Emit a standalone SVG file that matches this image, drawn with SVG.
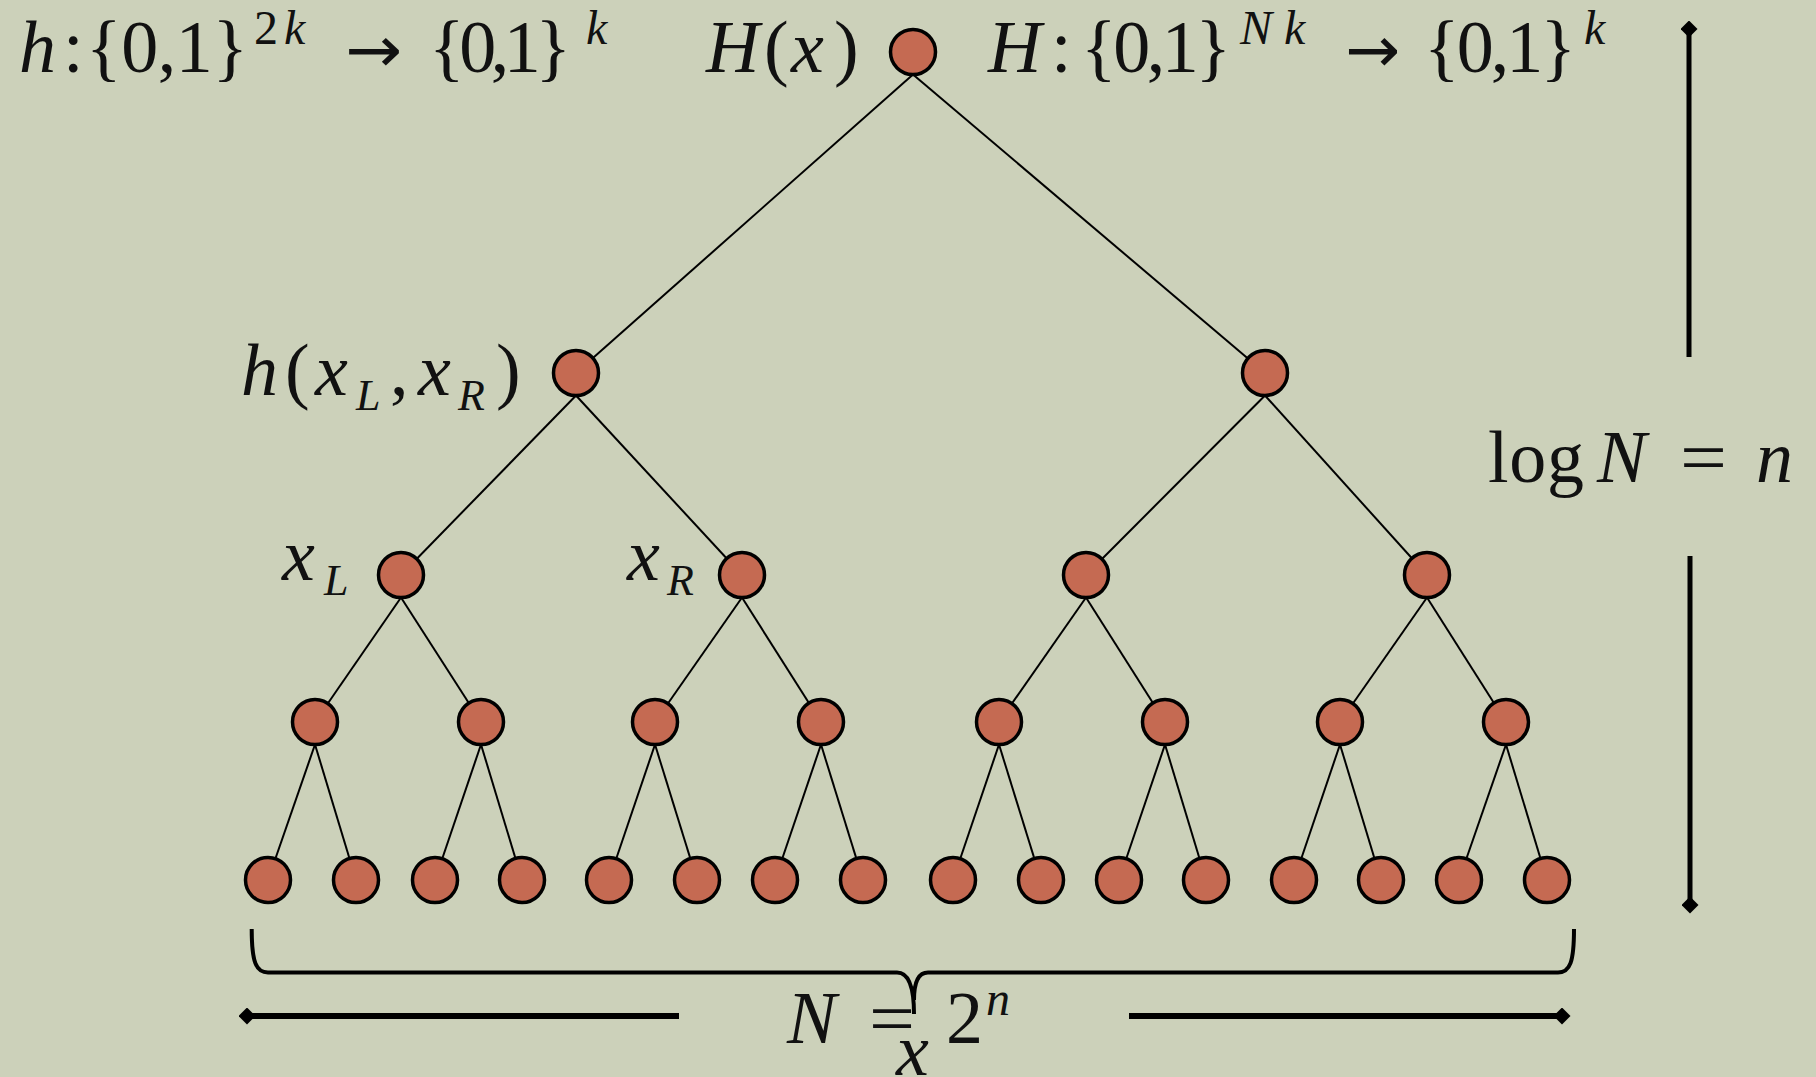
<svg xmlns="http://www.w3.org/2000/svg" width="1816" height="1077" viewBox="0 0 1816 1077">
<style>
  .n { fill: #C56A52; stroke: #000; stroke-width: 3.5; }
  .c { stroke: #000; stroke-width: 2; fill: none; }
  .t { font-family: "Liberation Serif", "Times New Roman", serif; font-size: 74px; fill: #111; }
  .s { font-size: 48px; }
  .b { font-size: 44px; }
  .i { font-style: italic; }
  .ar { font-family: "DejaVu Sans", sans-serif; font-size: 64px; }
  .arr { stroke: #000; fill: none; }
</style>
<defs>
  <marker id="dia" viewBox="-1 -1 2 2" markerWidth="17" markerHeight="17" markerUnits="userSpaceOnUse" refX="0" refY="0" orient="auto">
    <path d="M-1 0 L0 -1 L1 0 L0 1 Z" fill="#000"/>
  </marker>
</defs>
<rect width="1816" height="1077" fill="#CCD1BA"/>

<g id="connectors">
  <line class="c" x1="913" y1="74.5" x2="576" y2="373"/>
  <line class="c" x1="913" y1="74.5" x2="1265" y2="373"/>
  <line class="c" x1="576" y1="395.5" x2="401" y2="575"/>
  <line class="c" x1="576" y1="395.5" x2="742" y2="575"/>
  <line class="c" x1="1265" y1="395.5" x2="1086" y2="575"/>
  <line class="c" x1="1265" y1="395.5" x2="1427" y2="575"/>
  <line class="c" x1="401" y1="597.5" x2="315" y2="722"/>
  <line class="c" x1="401" y1="597.5" x2="481" y2="722"/>
  <line class="c" x1="742" y1="597.5" x2="655" y2="722"/>
  <line class="c" x1="742" y1="597.5" x2="821" y2="722"/>
  <line class="c" x1="1086" y1="597.5" x2="999" y2="722"/>
  <line class="c" x1="1086" y1="597.5" x2="1165" y2="722"/>
  <line class="c" x1="1427" y1="597.5" x2="1340" y2="722"/>
  <line class="c" x1="1427" y1="597.5" x2="1506" y2="722"/>
  <line class="c" x1="315" y1="744.5" x2="268" y2="880"/>
  <line class="c" x1="315" y1="744.5" x2="356" y2="880"/>
  <line class="c" x1="481" y1="744.5" x2="435" y2="880"/>
  <line class="c" x1="481" y1="744.5" x2="522" y2="880"/>
  <line class="c" x1="655" y1="744.5" x2="609" y2="880"/>
  <line class="c" x1="655" y1="744.5" x2="697" y2="880"/>
  <line class="c" x1="821" y1="744.5" x2="775" y2="880"/>
  <line class="c" x1="821" y1="744.5" x2="863" y2="880"/>
  <line class="c" x1="999" y1="744.5" x2="953" y2="880"/>
  <line class="c" x1="999" y1="744.5" x2="1041" y2="880"/>
  <line class="c" x1="1165" y1="744.5" x2="1119" y2="880"/>
  <line class="c" x1="1165" y1="744.5" x2="1206" y2="880"/>
  <line class="c" x1="1340" y1="744.5" x2="1294" y2="880"/>
  <line class="c" x1="1340" y1="744.5" x2="1381" y2="880"/>
  <line class="c" x1="1506" y1="744.5" x2="1459" y2="880"/>
  <line class="c" x1="1506" y1="744.5" x2="1547" y2="880"/>
</g>

<g id="nodes">
  <g id="root"><circle class="n" cx="913" cy="52" r="22.5"/></g>
  <g id="n1a"><circle class="n" cx="576" cy="373" r="22.5"/></g>
  <g id="n1b"><circle class="n" cx="1265" cy="373" r="22.5"/></g>
  <g id="n2a"><circle class="n" cx="401" cy="575" r="22.5"/></g>
  <g id="n2b"><circle class="n" cx="742" cy="575" r="22.5"/></g>
  <g id="n2c"><circle class="n" cx="1086" cy="575" r="22.5"/></g>
  <g id="n2d"><circle class="n" cx="1427" cy="575" r="22.5"/></g>
  <g id="n3a"><circle class="n" cx="315" cy="722" r="22.5"/></g>
  <g id="n3b"><circle class="n" cx="481" cy="722" r="22.5"/></g>
  <g id="n3c"><circle class="n" cx="655" cy="722" r="22.5"/></g>
  <g id="n3d"><circle class="n" cx="821" cy="722" r="22.5"/></g>
  <g id="n3e"><circle class="n" cx="999" cy="722" r="22.5"/></g>
  <g id="n3f"><circle class="n" cx="1165" cy="722" r="22.5"/></g>
  <g id="n3g"><circle class="n" cx="1340" cy="722" r="22.5"/></g>
  <g id="n3h"><circle class="n" cx="1506" cy="722" r="22.5"/></g>
  <g id="leaf01"><circle class="n" cx="268" cy="880" r="22.5"/></g>
  <g id="leaf02"><circle class="n" cx="356" cy="880" r="22.5"/></g>
  <g id="leaf03"><circle class="n" cx="435" cy="880" r="22.5"/></g>
  <g id="leaf04"><circle class="n" cx="522" cy="880" r="22.5"/></g>
  <g id="leaf05"><circle class="n" cx="609" cy="880" r="22.5"/></g>
  <g id="leaf06"><circle class="n" cx="697" cy="880" r="22.5"/></g>
  <g id="leaf07"><circle class="n" cx="775" cy="880" r="22.5"/></g>
  <g id="leaf08"><circle class="n" cx="863" cy="880" r="22.5"/></g>
  <g id="leaf09"><circle class="n" cx="953" cy="880" r="22.5"/></g>
  <g id="leaf10"><circle class="n" cx="1041" cy="880" r="22.5"/></g>
  <g id="leaf11"><circle class="n" cx="1119" cy="880" r="22.5"/></g>
  <g id="leaf12"><circle class="n" cx="1206" cy="880" r="22.5"/></g>
  <g id="leaf13"><circle class="n" cx="1294" cy="880" r="22.5"/></g>
  <g id="leaf14"><circle class="n" cx="1381" cy="880" r="22.5"/></g>
  <g id="leaf15"><circle class="n" cx="1459" cy="880" r="22.5"/></g>
  <g id="leaf16"><circle class="n" cx="1547" cy="880" r="22.5"/></g>
</g>

<g id="dimensions">
  <line class="arr" stroke-width="5" x1="1689" y1="29" x2="1689" y2="357" marker-start="url(#dia)"/>
  <line class="arr" stroke-width="5" x1="1690" y1="556" x2="1690" y2="905" marker-end="url(#dia)"/>
  <line class="arr" stroke-width="6" x1="247" y1="1016" x2="679" y2="1016" marker-start="url(#dia)"/>
  <line class="arr" stroke-width="6" x1="1129" y1="1016" x2="1562" y2="1016" marker-end="url(#dia)"/>
  <path class="arr" stroke-width="4" d="M251.7 929 C251.7 962 256 972.5 268 972.5 L897 972.5 C908 972.5 914 986 914 1014 M914 1000 C914 982 918 972.5 928 972.5 L1558 972.5 C1570 972.5 1574 962 1574 929"/>
</g>

<g id="labels" class="t">
  <!-- h:{0,1}^{2k} -> {0,1}^k -->
  <text x="19" y="72" class="i">h</text>
  <text x="63" y="72">:</text>
  <text x="86" y="72" textLength="162">{0,1}</text>
  <text x="254" y="44" class="s">2</text>
  <text x="284" y="44" class="s i">k</text>
  <text x="345" y="72" class="ar" textLength="57" lengthAdjust="spacingAndGlyphs">→</text>
  <text x="429" y="72" textLength="142">{0,1}</text>
  <text x="586" y="44" class="s i">k</text>
  <!-- H(x) -->
  <text x="706" y="72" class="i">H</text>
  <text x="764" y="72">(</text>
  <text x="791" y="72" class="i">x</text>
  <text x="834" y="72">)</text>
  <!-- H:{0,1}^{Nk} -> {0,1}^k -->
  <text x="988" y="72" class="i">H</text>
  <text x="1051" y="72">:</text>
  <text x="1081" y="72" textLength="150">{0,1}</text>
  <text x="1240" y="44" class="s i">N</text>
  <text x="1284" y="44" class="s i">k</text>
  <text x="1345" y="72" class="ar" textLength="55" lengthAdjust="spacingAndGlyphs">→</text>
  <text x="1424" y="72" textLength="152">{0,1}</text>
  <text x="1584" y="44" class="s i">k</text>
  <!-- h(x_L, x_R) -->
  <text x="241" y="395" class="i">h</text>
  <text x="285" y="395">(</text>
  <text x="315" y="395" class="i">x</text>
  <text x="356" y="410" class="b i">L</text>
  <text x="390" y="395">,</text>
  <text x="418" y="395" class="i">x</text>
  <text x="458" y="410" class="b i">R</text>
  <text x="496" y="395">)</text>
  <!-- x_L, x_R -->
  <text x="282" y="580" class="i">x</text>
  <text x="324" y="595" class="b i">L</text>
  <text x="627" y="580" class="i">x</text>
  <text x="667" y="595" class="b i">R</text>
  <!-- log N = n -->
  <text x="1488" y="482" textLength="96">log</text>
  <text x="1597" y="482" class="i">N</text>
  <text x="1680" y="482" textLength="47" lengthAdjust="spacingAndGlyphs">=</text>
  <text x="1756" y="482" class="i">n</text>
  <!-- N = 2^n -->
  <text x="787" y="1043" class="i">N</text>
  <text x="869" y="1043" textLength="46" lengthAdjust="spacingAndGlyphs">=</text>
  <text x="946" y="1043">2</text>
  <text x="986" y="1015" class="s i">n</text>
  <text x="896" y="1075" class="i">x</text>
</g>
</svg>
